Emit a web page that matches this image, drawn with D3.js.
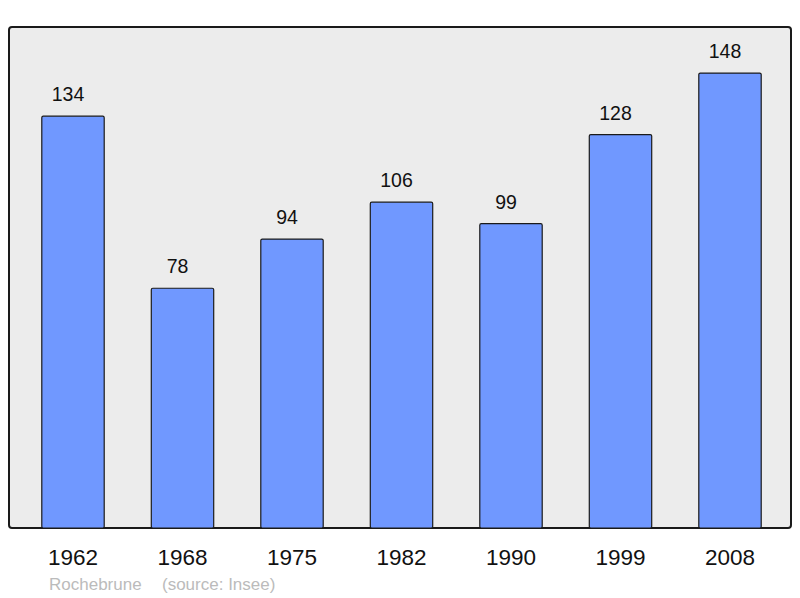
<!DOCTYPE html>
<html>
<head>
<meta charset="utf-8">
<script src="https://cdn.jsdelivr.net/npm/d3@7"></script>
<style>
  body { margin: 0; background: #fff; }
  text { font-family: "Liberation Sans", Arial, sans-serif; }
</style>
</head>
<body>
<div id="chart"></div>
<script>
// données population
const years = ["1962", "1968", "1975", "1982", "1990", "1999", "2008"];
const population = [134, 78, 94, 106, 99, 128, 148];
const commune = "Rochebrune";
const sourceLabel = "(source: Insee)";

const width = 800, height = 598;
const panel = { left: 9, top: 27, right: 791, bottom: 528 };

const svg = d3.select("#chart")
    .append("svg")
    .attr("width", width)
    .attr("height", height);

// fond du graphique
svg.append("rect")
    .attr("x", panel.left)
    .attr("y", panel.top)
    .attr("width", panel.right - panel.left)
    .attr("height", panel.bottom - panel.top)
    .attr("rx", 3)
    .attr("fill", "#ececec")
    .attr("stroke", "#1a1a1a")
    .attr("stroke-width", 2);

// échelles
const x = d3.scaleBand()
    .domain(years)
    .range([18.25, 784.75])
    .paddingInner(0.43)
    .paddingOuter(0.215);

const y = d3.scaleLinear()
    .domain([0, 163])
    .range([panel.bottom, panel.top]);

// barres
svg.selectAll("rect.bar")
    .data(population)
    .enter()
    .append("rect")
    .attr("class", "bar")
    .attr("x", (d, i) => x(years[i]))
    .attr("y", d => y(d))
    .attr("width", x.bandwidth())
    .attr("height", d => y(0) - y(d))
    .attr("rx", 1.5)
    .attr("fill", "#7098ff")
    .attr("stroke", "#1a1a1a")
    .attr("stroke-width", 1.2);

// valeurs au-dessus des barres (légèrement décalées à gauche comme l'original)
svg.selectAll("text.value")
    .data(population)
    .enter()
    .append("text")
    .attr("class", "value")
    .attr("x", (d, i) => x(years[i]) + x.bandwidth() / 2 - 5)
    .attr("y", d => y(d) - 15)
    .attr("text-anchor", "middle")
    .style("font-size", "19.5px")
    .attr("fill", "#111")
    .text(d => d);

// axe des années
svg.append("g")
    .selectAll("text")
    .data(years)
    .enter()
    .append("text")
    .attr("x", d => x(d) + x.bandwidth() / 2)
    .attr("y", 565)
    .attr("text-anchor", "middle")
    .style("font-size", "22.5px")
    .attr("fill", "#111")
    .text(d => d);

// source
svg.append("text")
    .attr("x", 49)
    .attr("y", 590)
    .style("font-size", "17px")
    .attr("fill", "#bbbbbb")
    .text(commune);

svg.append("text")
    .attr("x", 162)
    .attr("y", 590)
    .style("font-size", "17px")
    .attr("fill", "#bbbbbb")
    .text(sourceLabel);
</script>
</body>
</html>
